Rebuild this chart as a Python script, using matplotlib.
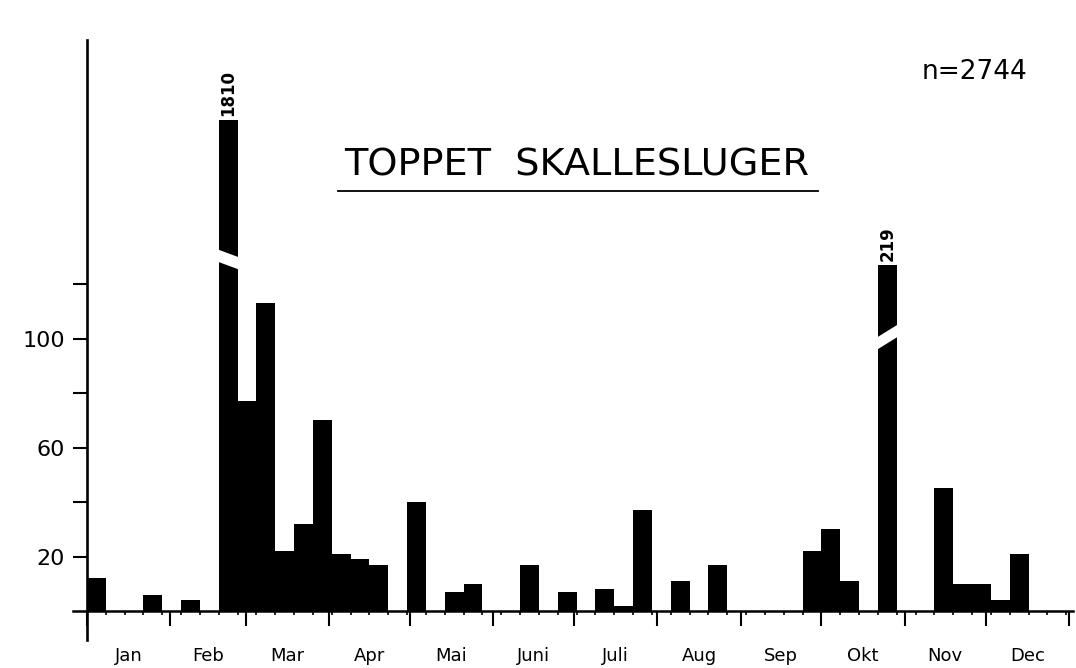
import matplotlib
matplotlib.use("Agg")
import matplotlib.pyplot as plt
from matplotlib.lines import Line2D
import numpy as np

# weekly counts (week 1 starts 1 Jan)
week_counts = [12, 0, 0, 6, 0, 4, 0, 1810, 77, 113, 22, 32, 70,
               21, 19, 17, 0, 40, 0, 7, 10, 0, 0, 17, 0, 7,
               0, 8, 2, 37, 0, 11, 0, 17, 0, 0, 0, 0, 22, 30,
               11, 0, 219, 0, 0, 45, 10, 10, 4, 21, 0, 0]
month_names = ["Jan", "Feb", "Mar", "Apr", "Mai", "Juni",
               "Juli", "Aug", "Sep", "Okt", "Nov", "Dec"]
month_days = [31, 28, 31, 30, 31, 30, 31, 31, 30, 31, 30, 31]
y_ticks = [20, 40, 60, 80, 100, 120]
y_ticklabels = ["20", "", "60", "", "100", ""]
n_total = 2744
title = "TOPPET  SKALLESLUGER"

# broken bars: drawn height and the slanted cut (left/right centre of the gap)
broken = {7: (180, 130.5, 127.5), 42: (127, 98.0, 103.0)}
gap = 4.5

fig = plt.figure(figsize=(10.76, 6.68), dpi=100)
ax = fig.add_axes([73 / 1076, 28 / 668, 1000 / 1076, 600 / 668])

starts = np.arange(len(week_counts)) * 7
heights = np.array(week_counts, dtype=float)
for i, (h, _, _) in broken.items():
    heights[i] = h
ax.bar(starts, heights, width=7, align="edge", color="black", linewidth=0)

for i, (h, yl, yr) in broken.items():
    x0, x1 = starts[i] - 0.6, starts[i] + 7.6
    ax.fill([x0, x1, x1, x0], [yl - gap / 2, yr - gap / 2, yr + gap / 2, yl + gap / 2],
            color="white", zorder=3, linewidth=0)
    ax.text(starts[i] + 3.5, h + 1.5, str(week_counts[i]), rotation=90,
            ha="center", va="bottom", fontsize=12, fontweight="bold")

ax.set_xlim(-5.2, 366.5)
ax.set_ylim(-10.6, 209.5)

for s in ["top", "right"]:
    ax.spines[s].set_visible(False)
ax.spines["left"].set_position(("data", 0))
ax.spines["bottom"].set_position(("data", 0))
ax.spines["left"].set_linewidth(1.9)
ax.spines["bottom"].set_linewidth(1.8)

bounds = np.cumsum([0] + month_days)
ax.set_xticks(bounds)
ax.set_xticks(np.arange(0, 365, 7), minor=True)
ax.tick_params(axis="x", which="major", direction="out", length=11, width=1.5,
               labelbottom=False)
ax.tick_params(axis="x", which="minor", direction="out", length=3, width=1.2)

ax.set_yticks(y_ticks)
ax.set_yticklabels(y_ticklabels)
ax.tick_params(axis="y", direction="out", length=10, width=1.5, labelsize=16, pad=6)

# month names sit just above the bottom edge
mids = (bounds[:-1] + bounds[1:]) / 2
for m, name in zip(mids, month_names):
    ax.text(m, -19.9, name, ha="center", va="bottom", fontsize=13, clip_on=False)

fig.text(577 / 1076, 1 - 166 / 668, title, ha="center", va="center", fontsize=27.5)
fig.add_artist(Line2D([338 / 1076, 818 / 1076], [1 - 191 / 668, 1 - 191 / 668],
                      transform=fig.transFigure, color="black", linewidth=1.3))
fig.text(974 / 1076, 1 - 72 / 668, f"n={n_total}", ha="center", va="center", fontsize=19)

fig.savefig("out.png", dpi=100)
